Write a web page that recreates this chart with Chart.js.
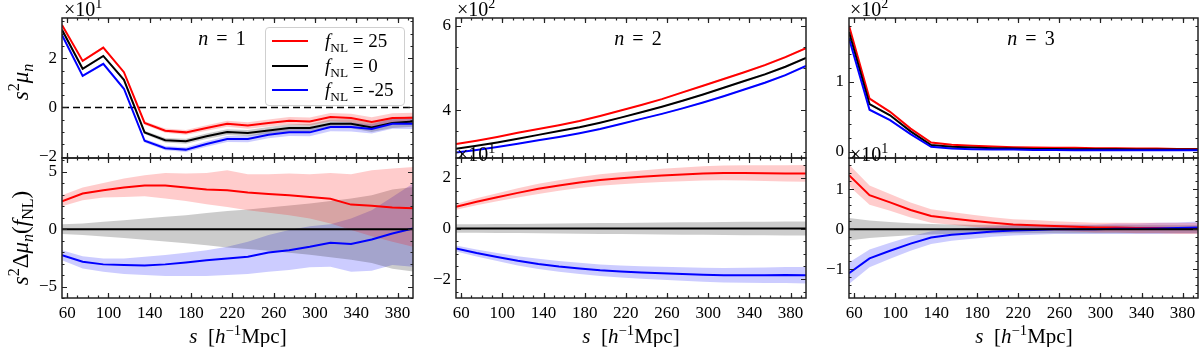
<!DOCTYPE html>
<html>
<head>
<meta charset="utf-8">
<script src="https://cdn.jsdelivr.net/npm/chart.js@4.4.0/dist/chart.umd.min.js"></script>
<style>
  html, body { margin: 0; padding: 0; background: #fff; }
  body { width: 1200px; height: 347px; position: relative; overflow: hidden;
         font-family: "Liberation Serif", "DejaVu Serif", serif; color: #000; }
  canvas { position: absolute; }
  .lbl { position: absolute; white-space: nowrap; line-height: 1; }
  .c { transform: translate(-50%, -50%); }
  .rot { transform: translate(-50%, -50%) rotate(-90deg); }
  .wide { word-spacing: 3px; }
  sub, sup { font-size: 70%; line-height: 0; }
  .legend { position: absolute; left: 265px; top: 27px; width: 138px; height: 77px;
            border: 1px solid #cfcfcf; border-radius: 4px; background: rgba(255,255,255,0.85); }
  .swatch { position: absolute; width: 36px; height: 2px; }
</style>
</head>
<body>
<script>
// separation s [h^-1 Mpc], shared by every panel
const sVals = [55, 75, 95, 115, 135, 155, 175, 195, 215, 235, 255, 275, 295, 315, 335, 355, 375, 395];
const xTicks = [60, 100, 140, 180, 220, 260, 300, 340, 380];

// n = 1 : s^2 mu_n  (x10)
const n1Red   = [3.35, 1.89, 2.43, 1.43, -0.63, -0.94, -1.01, -0.83, -0.66, -0.73, -0.63, -0.54, -0.57, -0.39, -0.43, -0.59, -0.43, -0.42];
const n1Black = [3.15, 1.57, 2.09, 1.12, -1.01, -1.33, -1.37, -1.17, -1.00, -1.04, -0.93, -0.83, -0.83, -0.66, -0.66, -0.81, -0.63, -0.57];
const n1Blue  = [2.94, 1.28, 1.77, 0.76, -1.35, -1.65, -1.71, -1.48, -1.28, -1.28, -1.11, -1.01, -1.01, -0.79, -0.79, -0.87, -0.66, -0.66];
const n1Err   = [0.04, 0.04, 0.05, 0.05, 0.07, 0.09, 0.10, 0.11, 0.12, 0.13, 0.14, 0.15, 0.16, 0.17, 0.18, 0.19, 0.20, 0.21];

// n = 2 : s^2 mu_n  (x100)
const n2Red   = [3.19, 3.27, 3.36, 3.46, 3.55, 3.64, 3.74, 3.86, 3.99, 4.12, 4.26, 4.42, 4.58, 4.74, 4.90, 5.07, 5.26, 5.47];
const n2Black = [3.08, 3.15, 3.23, 3.32, 3.41, 3.50, 3.59, 3.70, 3.82, 3.95, 4.08, 4.22, 4.37, 4.53, 4.69, 4.85, 5.03, 5.24];
const n2Blue  = [2.99, 3.05, 3.12, 3.20, 3.28, 3.36, 3.45, 3.55, 3.67, 3.79, 3.91, 4.04, 4.18, 4.33, 4.49, 4.65, 4.83, 5.05];
const n2Err   = [0.01, 0.01, 0.01, 0.01, 0.01, 0.01, 0.01, 0.015, 0.015, 0.015, 0.015, 0.02, 0.02, 0.02, 0.02, 0.025, 0.025, 0.025];

// n = 3 : s^2 mu_n  (x100)
const n3Red   = [1.80, 0.76, 0.57, 0.33, 0.13, 0.100, 0.085, 0.075, 0.065, 0.060, 0.055, 0.055, 0.050, 0.050, 0.045, 0.045, 0.040, 0.040];
const n3Black = [1.71, 0.68, 0.52, 0.29, 0.095, 0.070, 0.060, 0.050, 0.045, 0.040, 0.040, 0.035, 0.035, 0.035, 0.030, 0.030, 0.030, 0.030];
const n3Blue  = [1.62, 0.60, 0.45, 0.25, 0.070, 0.045, 0.035, 0.030, 0.030, 0.025, 0.025, 0.020, 0.020, 0.020, 0.020, 0.020, 0.020, 0.020];
const n3Err   = [0.02, 0.015, 0.012, 0.01, 0.008, 0.007, 0.006, 0.006, 0.006, 0.006, 0.006, 0.006, 0.006, 0.006, 0.006, 0.006, 0.006, 0.006];

// n = 1 : s^2 Delta mu_n(f_NL)
const d1Red     = [2.43, 3.10, 3.39, 3.62, 3.80, 3.80, 3.62, 3.45, 3.39, 3.19, 3.07, 2.96, 2.81, 2.64, 2.14, 2.03, 1.88, 1.83];
const d1RedHi   = [2.96, 3.62, 4.03, 4.41, 4.70, 4.90, 4.84, 4.90, 5.13, 4.78, 4.78, 4.84, 4.78, 4.90, 4.78, 5.13, 5.28, 5.42];
const d1RedLo   = [2.00, 2.52, 2.75, 2.81, 2.87, 2.67, 2.46, 2.17, 1.94, 1.65, 1.42, 1.22, 0.93, 0.49, -0.07, -0.61, -1.10, -1.54];
const d1Blue    = [-2.26, -2.84, -3.07, -3.13, -3.16, -3.07, -2.90, -2.70, -2.55, -2.41, -2.03, -1.83, -1.54, -1.19, -1.30, -0.90, -0.38, 0.06];
const d1BlueHi  = [-1.83, -2.36, -2.55, -2.55, -2.41, -2.26, -2.06, -1.83, -1.54, -1.10, -0.52, -0.07, 0.26, 0.43, 0.93, 1.65, 2.81, 3.97];
const d1BlueLo  = [-2.70, -3.42, -3.71, -3.91, -4.00, -4.09, -4.09, -4.09, -4.00, -3.91, -3.71, -3.57, -3.33, -3.28, -3.71, -3.62, -3.13, -3.28];
const d1GreyErr = [0.43, 0.50, 0.64, 0.78, 0.93, 1.08, 1.22, 1.40, 1.59, 1.72, 1.88, 2.05, 2.23, 2.45, 2.67, 2.95, 3.45, 3.68];

// n = 2 : s^2 Delta mu_n(f_NL)  (x10)
const d2Red     = [0.86, 1.06, 1.24, 1.41, 1.57, 1.70, 1.82, 1.92, 1.99, 2.05, 2.10, 2.14, 2.18, 2.20, 2.20, 2.19, 2.18, 2.18];
const d2Blue    = [-0.79, -0.97, -1.13, -1.28, -1.40, -1.50, -1.58, -1.65, -1.70, -1.74, -1.77, -1.80, -1.83, -1.85, -1.85, -1.85, -1.84, -1.85];
const d2Err     = [0.12, 0.14, 0.16, 0.18, 0.20, 0.21, 0.22, 0.23, 0.24, 0.25, 0.26, 0.27, 0.28, 0.29, 0.30, 0.31, 0.32, 0.33];
const d2GreyErr = [0.17, 0.17, 0.18, 0.18, 0.19, 0.20, 0.21, 0.22, 0.22, 0.23, 0.24, 0.25, 0.25, 0.26, 0.27, 0.27, 0.28, 0.28];

// n = 3 : s^2 Delta mu_n(f_NL)  (x10)
const d3Red     = [1.35, 0.85, 0.67, 0.48, 0.33, 0.27, 0.21, 0.16, 0.12, 0.10, 0.08, 0.06, 0.04, 0.04, 0.03, 0.03, 0.02, 0.02];
const d3Blue    = [-1.10, -0.73, -0.54, -0.36, -0.21, -0.14, -0.10, -0.06, -0.03, -0.02, 0.00, 0.00, 0.00, 0.01, 0.01, 0.02, 0.03, 0.04];
const d3RedErr  = [0.27, 0.24, 0.21, 0.19, 0.17, 0.16, 0.15, 0.14, 0.13, 0.13, 0.12, 0.12, 0.12, 0.12, 0.13, 0.13, 0.14, 0.14];
const d3BlueErr = [0.27, 0.22, 0.20, 0.18, 0.16, 0.15, 0.14, 0.13, 0.13, 0.12, 0.12, 0.12, 0.12, 0.13, 0.13, 0.14, 0.14, 0.15];
const d3GreyErr = [0.28, 0.22, 0.18, 0.15, 0.13, 0.12, 0.11, 0.11, 0.10, 0.10, 0.10, 0.10, 0.10, 0.10, 0.10, 0.10, 0.10, 0.10];

const zeroDiff  = [0, 0, 0, 0, 0, 0, 0, 0, 0, 0, 0, 0, 0, 0, 0, 0, 0, 0];

const RED = "#ff0000", BLACK = "#000000", BLUE = "#0000ff";
const RED_FILL = "rgba(255,0,0,0.2)", GREY_FILL = "rgba(0,0,0,0.2)", BLUE_FILL = "rgba(0,0,255,0.2)";

const pts = (arr) => arr.map((v, i) => ({ x: sVals[i], y: v }));
const plus = (v, e) => v.map((y, i) => y + e[i]);
const minus = (v, e) => v.map((y, i) => y - e[i]);

function band(hi, lo, color) {
  return [
    { data: pts(hi), fill: "+1", backgroundColor: color, borderWidth: 0, pointRadius: 0, order: 2 },
    { data: pts(lo), fill: false, borderWidth: 0, pointRadius: 0, order: 2 },
  ];
}
function line(v, color) {
  return { data: pts(v), borderColor: color, borderWidth: 2, pointRadius: 0, fill: false, order: 1, tension: 0 };
}

// frame, inward ticks on all sides, optional dashed zero line
const frame = {
  id: "frame",
  beforeDatasetsDraw(chart, args, o) {
    if (!o.zeroDash) return;
    const { ctx, chartArea: a, scales: { y } } = chart;
    const py = y.getPixelForValue(0);
    ctx.save();
    ctx.strokeStyle = "#000";
    ctx.lineWidth = 1.5;
    ctx.setLineDash([7, 4]);
    ctx.beginPath();
    ctx.moveTo(a.left, py);
    ctx.lineTo(a.right, py);
    ctx.stroke();
    ctx.restore();
  },
  afterDatasetsDraw(chart, args, o) {
    const { ctx, chartArea: a, scales: { x, y } } = chart;
    ctx.save();
    ctx.strokeStyle = "#222";
    ctx.lineWidth = 1.2;
    const minorVals = (min, max, step) => {
      const out = [];
      for (let k = Math.ceil(min / step - 1e-9); k * step <= max + 1e-9; k++) out.push(k * step);
      return out;
    };
    const xMarks = (vals, len) => vals.forEach((v) => {
      const px = Math.round(x.getPixelForValue(v)) + 0.5;
      ctx.beginPath();
      ctx.moveTo(px, a.bottom); ctx.lineTo(px, a.bottom - len);
      ctx.moveTo(px, a.top); ctx.lineTo(px, a.top + len);
      ctx.stroke();
    });
    const yMarks = (vals, len) => vals.forEach((v) => {
      const py = Math.round(y.getPixelForValue(v)) + 0.5;
      ctx.beginPath();
      ctx.moveTo(a.left, py); ctx.lineTo(a.left + len, py);
      ctx.moveTo(a.right, py); ctx.lineTo(a.right - len, py);
      ctx.stroke();
    });
    xMarks(minorVals(x.min, x.max, 10), 2.5);
    xMarks(xTicks, 5);
    yMarks(minorVals(y.min, y.max, o.yMinor), 2.5);
    yMarks(o.yTicks, 5);
    ctx.lineWidth = 1.5;
    ctx.strokeRect(a.left, a.top, a.right - a.left, a.bottom - a.top);
    ctx.restore();
  },
};

const cols = [{ l: 62, r: 413 }, { l: 456, r: 806 }, { l: 849, r: 1198 }];
const rows = [{ t: 18, b: 158 }, { t: 158, b: 298 }];
const tickFont = { family: "Liberation Serif", size: 17 };
const fmt = (v) => (v < 0 ? "\u2212" + Math.abs(v) : String(v));

function makePanel(p) {
  const c = cols[p.col], r = rows[p.row];
  const bottom = p.row === 1;
  const padT = 16, padR = 12, yW = 60, xH = bottom ? 36 : 0, padB = bottom ? 0 : 16;
  const w = c.r - c.l + yW + padR, h = r.b - r.t + padT + xH + padB;
  const cv = document.createElement("canvas");
  cv.width = w; cv.height = h;
  cv.style.left = (c.l - yW) + "px";
  cv.style.top = (r.t - padT) + "px";
  cv.style.width = w + "px";
  cv.style.height = h + "px";
  document.body.appendChild(cv);

  new Chart(cv, {
    type: "line",
    data: { datasets: p.datasets },
    options: {
      responsive: false,
      animation: false,
      devicePixelRatio: 1,
      events: [],
      layout: { padding: { top: padT, right: padR, bottom: padB, left: 0 } },
      plugins: {
        legend: { display: false },
        tooltip: { enabled: false },
        frame: { yTicks: p.yTicks, yMinor: p.yMinor, zeroDash: !!p.zeroDash },
      },
      scales: {
        x: {
          type: "linear", min: 55, max: 395,
          grid: { display: false, drawTicks: false },
          border: { display: false },
          ticks: { display: bottom, font: tickFont, color: "#000", padding: 5, maxRotation: 0, autoSkip: false },
          afterBuildTicks: (s) => { s.ticks = xTicks.map((v) => ({ value: v })); },
          afterFit: (s) => { s.height = xH; },
        },
        y: {
          type: "linear", min: p.yMin, max: p.yMax,
          grid: { display: false, drawTicks: false },
          border: { display: false },
          ticks: { font: tickFont, color: "#000", padding: 5, autoSkip: false, callback: (v) => fmt(v) },
          afterBuildTicks: (s) => { s.ticks = p.yTicks.map((v) => ({ value: v })); },
          afterFit: (s) => { s.width = yW; },
        },
      },
    },
    plugins: [frame],
  });
}

// top row
makePanel({ col: 0, row: 0, yMin: -2.05, yMax: 3.63, yTicks: [-2, 0, 2], yMinor: 0.5, zeroDash: true,
  datasets: [line(n1Blue, BLUE), line(n1Black, BLACK), line(n1Red, RED),
    ...band(plus(n1Red, n1Err), minus(n1Red, n1Err), RED_FILL),
    ...band(plus(n1Black, n1Err), minus(n1Black, n1Err), GREY_FILL),
    ...band(plus(n1Blue, n1Err), minus(n1Blue, n1Err), BLUE_FILL)] });
makePanel({ col: 1, row: 0, yMin: 2.86, yMax: 6.19, yTicks: [4, 6], yMinor: 0.5,
  datasets: [line(n2Blue, BLUE), line(n2Black, BLACK), line(n2Red, RED),
    ...band(plus(n2Red, n2Err), minus(n2Red, n2Err), RED_FILL),
    ...band(plus(n2Black, n2Err), minus(n2Black, n2Err), GREY_FILL),
    ...band(plus(n2Blue, n2Err), minus(n2Blue, n2Err), BLUE_FILL)] });
makePanel({ col: 2, row: 0, yMin: -0.09, yMax: 1.91, yTicks: [0, 1], yMinor: 0.2,
  datasets: [line(n3Blue, BLUE), line(n3Black, BLACK), line(n3Red, RED),
    ...band(plus(n3Red, n3Err), minus(n3Red, n3Err), RED_FILL),
    ...band(plus(n3Black, n3Err), minus(n3Black, n3Err), GREY_FILL),
    ...band(plus(n3Blue, n3Err), minus(n3Blue, n3Err), BLUE_FILL)] });

// bottom row
makePanel({ col: 0, row: 1, yMin: -6.0, yMax: 6.2, yTicks: [-5, 0, 5], yMinor: 1,
  datasets: [line(zeroDiff, BLACK), line(d1Blue, BLUE), line(d1Red, RED),
    ...band(d1RedHi, d1RedLo, RED_FILL),
    ...band(d1GreyErr, minus(zeroDiff, d1GreyErr), GREY_FILL),
    ...band(d1BlueHi, d1BlueLo, BLUE_FILL)] });
makePanel({ col: 1, row: 1, yMin: -2.75, yMax: 2.79, yTicks: [-2, 0, 2], yMinor: 0.5,
  datasets: [line(zeroDiff, BLACK), line(d2Blue, BLUE), line(d2Red, RED),
    ...band(plus(d2Red, d2Err), minus(d2Red, d2Err), RED_FILL),
    ...band(d2GreyErr, minus(zeroDiff, d2GreyErr), GREY_FILL),
    ...band(plus(d2Blue, d2Err), minus(d2Blue, d2Err), BLUE_FILL)] });
makePanel({ col: 2, row: 1, yMin: -1.72, yMax: 1.78, yTicks: [-1, 0, 1], yMinor: 0.2,
  datasets: [line(zeroDiff, BLACK), line(d3Blue, BLUE), line(d3Red, RED),
    ...band(plus(d3Red, d3RedErr), minus(d3Red, d3RedErr), RED_FILL),
    ...band(d3GreyErr, minus(zeroDiff, d3GreyErr), GREY_FILL),
    ...band(plus(d3Blue, d3BlueErr), minus(d3Blue, d3BlueErr), BLUE_FILL)] });

// text overlays (math labels need sub/superscripts)
function label(html, x, y, cls, size) {
  const d = document.createElement("div");
  d.className = "lbl " + (cls || "");
  d.style.left = x + "px";
  d.style.top = y + "px";
  d.style.fontSize = (size || 17) + "px";
  d.innerHTML = html;
  document.body.appendChild(d);
}
label("<i>s</i><sup>2</sup><i>μ<sub>n</sub></i>", 20, 82, "rot", 23);
label("<i>s</i><sup>2</sup>Δ<i>μ<sub>n</sub></i>(<i>f</i><sub>NL</sub>)", 20, 238, "rot", 23);
[238, 631, 1024].forEach((cx) => label("<i>s</i>&nbsp; [<i>h</i><sup>−1</sup>Mpc]", cx, 336, "c", 21));
label("<i>n</i> = 1", 222, 38, "c wide", 20);
label("<i>n</i> = 2", 638, 38, "c wide", 20);
label("<i>n</i> = 3", 1031, 38, "c wide", 20);
label("×10<sup>1</sup>", 64, -1, "", 20);
label("×10<sup>2</sup>", 457, -1, "", 20);
label("×10<sup>2</sup>", 850, -1, "", 20);
label("×10<sup>1</sup>", 457, 144, "", 20);
label("×10<sup>1</sup>", 850, 144, "", 20);

// legend
const legendItems = [["25", RED], ["0", BLACK], ["-25", BLUE]];
const lg = document.createElement("div");
lg.className = "legend";
document.body.appendChild(lg);
legendItems.forEach(([val, col], i) => {
  const cy = 41 + i * 24.5;
  const sw = document.createElement("div");
  sw.className = "swatch";
  sw.style.left = "272px"; sw.style.top = (cy - 1) + "px"; sw.style.background = col;
  document.body.appendChild(sw);
  label("<i>f</i><sub>NL</sub> = " + val, 325, cy - 10, "", 19);
});
</script>
</body>
</html>
